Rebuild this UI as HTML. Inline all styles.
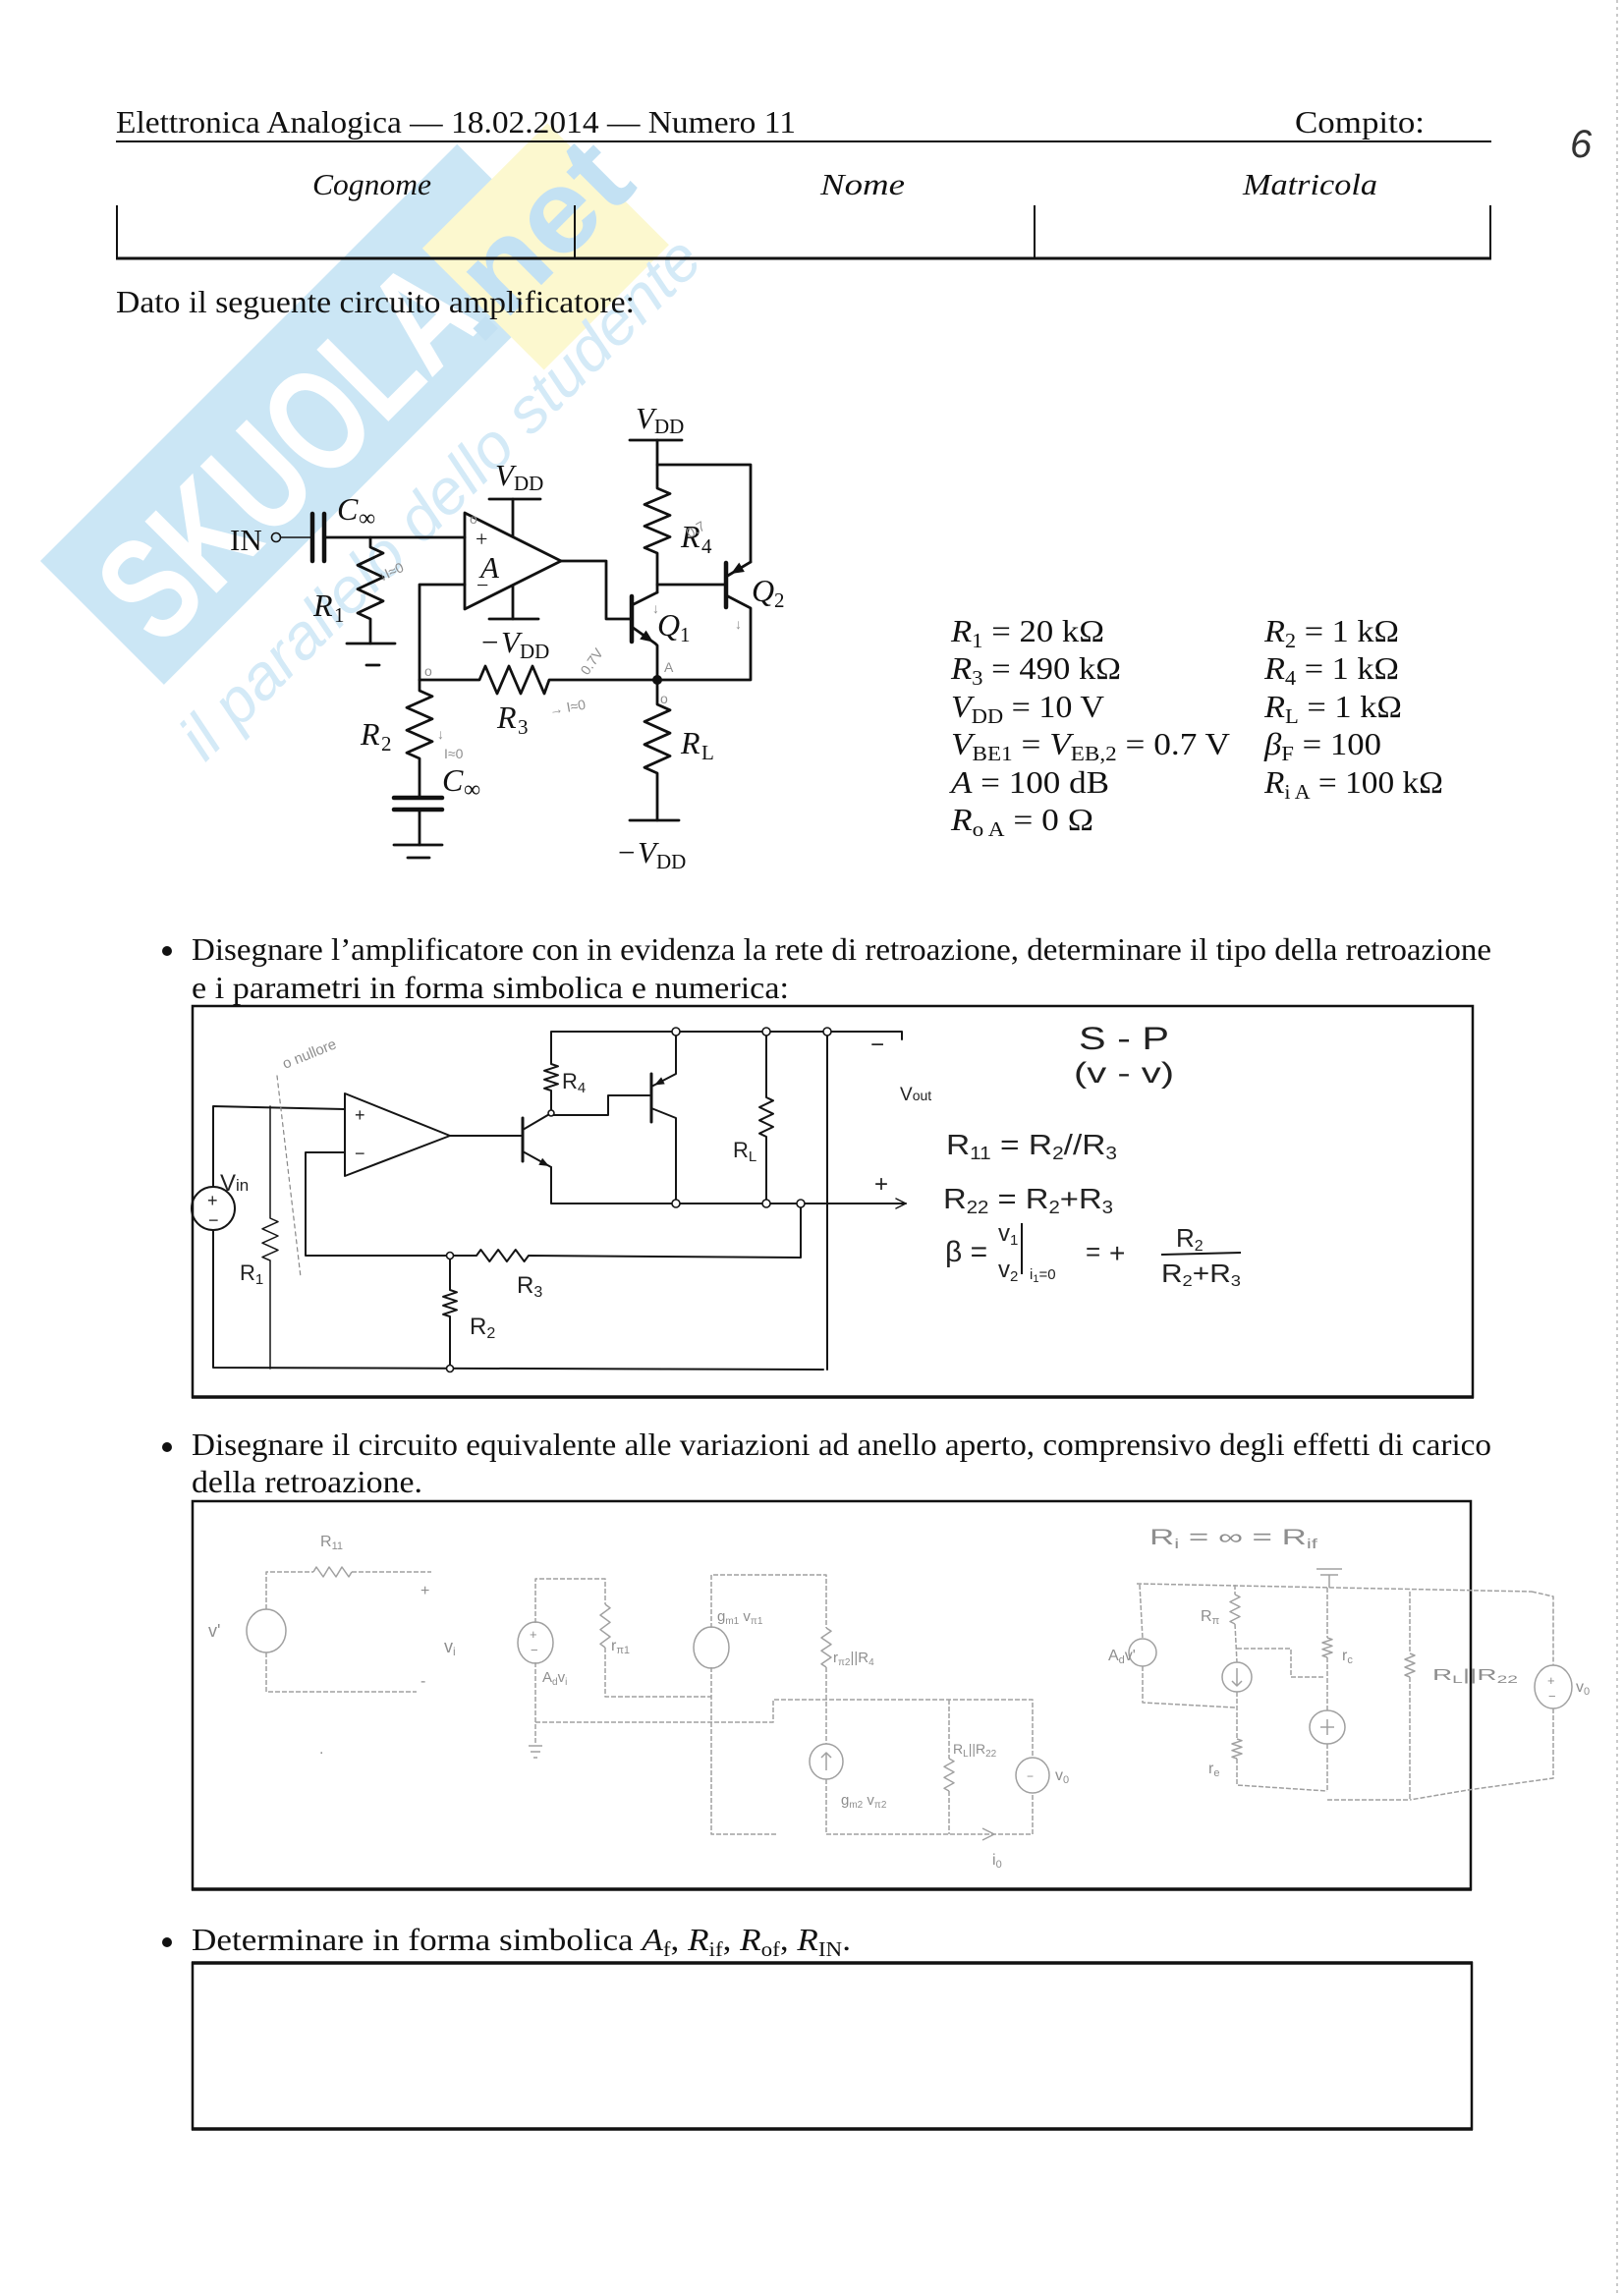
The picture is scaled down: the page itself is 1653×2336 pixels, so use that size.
<!DOCTYPE html>
<html><head><meta charset="utf-8"><style>
html,body{margin:0;padding:0;background:#fff;}
svg{display:block;}
text{font-family:"Liberation Serif",serif;fill:#111;}
.hw text, text.hw{font-family:"Liberation Sans",sans-serif;fill:#222;}
.pc text, text.pc{font-family:"Liberation Sans",sans-serif;fill:#8e8e8e;}
.it{font-style:italic;}
</style></head><body>
<svg width="1653" height="2336" viewBox="0 0 1653 2336" xmlns="http://www.w3.org/2000/svg">
<rect width="1653" height="2336" fill="#fff"/>

<!-- watermark -->
<g transform="translate(41,571) rotate(-45)">
  <rect x="0" y="0" width="600" height="178" fill="#cbe6f5"/>
  <text x="22" y="150" font-weight="bold" font-size="150" style="font-family:'Liberation Sans',sans-serif;fill:#fff" textLength="470" lengthAdjust="spacingAndGlyphs">SKUOLA</text>
  <rect x="500" y="50" width="180" height="175" fill="#fcf8cf"/>
  <text x="470" y="162" font-weight="bold" font-size="120" style="font-family:'Liberation Sans',sans-serif;fill:#c3e1f3" textLength="230" lengthAdjust="spacingAndGlyphs">.net</text>
  <text x="-27" y="264" font-style="italic" font-size="64" style="font-family:'Liberation Sans',sans-serif;fill:#d4eaf7" textLength="720" lengthAdjust="spacingAndGlyphs">il parallelo dello studente</text>
</g>

<!-- page edge -->
<line x1="1646" y1="0" x2="1646" y2="2336" stroke="#b8b8b8" stroke-width="1.5" stroke-dasharray="3,4"/>
<text x="1598" y="160" class="hw it" font-size="40" style="fill:#333">6</text>

<!-- header -->
<text x="118" y="135" font-size="32" textLength="692" lengthAdjust="spacingAndGlyphs">Elettronica Analogica — 18.02.2014 — Numero 11</text>
<text x="1318" y="135" font-size="32" textLength="132" lengthAdjust="spacingAndGlyphs">Compito:</text>
<line x1="118" y1="144" x2="1518" y2="144" stroke="#111" stroke-width="2"/>
<text x="318" y="198" font-size="31" class="it" textLength="121" lengthAdjust="spacingAndGlyphs">Cognome</text>
<text x="835" y="198" font-size="31" class="it" textLength="86" lengthAdjust="spacingAndGlyphs">Nome</text>
<text x="1265" y="198" font-size="31" class="it" textLength="137" lengthAdjust="spacingAndGlyphs">Matricola</text>
<g stroke="#111" stroke-width="2">
<line x1="119" y1="209" x2="119" y2="263"/>
<line x1="585" y1="209" x2="585" y2="263"/>
<line x1="1053" y1="209" x2="1053" y2="263"/>
<line x1="1517" y1="209" x2="1517" y2="263"/>
</g>
<line x1="118" y1="263" x2="1518" y2="263" stroke="#111" stroke-width="3"/>

<text x="118" y="318" font-size="32" textLength="528" lengthAdjust="spacingAndGlyphs">Dato il seguente circuito amplificatore:</text>

<!-- main circuit -->
<g stroke="#111" stroke-width="2.8" fill="none" stroke-linecap="round" stroke-linejoin="round">
  <circle cx="281" cy="547" r="4.5" stroke-width="1.6"/>
  <line x1="286" y1="547" x2="318" y2="547" stroke-width="1.6"/>
  <line x1="318" y1="523" x2="318" y2="571" stroke-width="4.5"/>
  <line x1="330" y1="523" x2="330" y2="571" stroke-width="4.5"/>
  <line x1="330" y1="547" x2="473" y2="547"/>
  <polyline points="377,547 377,557 390,563 364,575.3 390,587.5 364,599.6 390,611.8 364,624 377,630 377,655"/>
  <line x1="353" y1="655" x2="402" y2="655"/>
  <line x1="373" y1="677" x2="386" y2="677"/>
  <polygon points="473,522 473,620 571,571"/>
  <line x1="522" y1="508" x2="522" y2="546"/>
  <line x1="498" y1="508" x2="550" y2="508"/>
  <line x1="522" y1="596" x2="522" y2="630"/>
  <line x1="498" y1="630" x2="548" y2="630"/>
  <polyline points="473,595 427,595 427,692"/>
  <polyline points="427,692 488,692 494,678 506,706 518,678 530,706 542,678 554,706 559,692 669,692"/>
  <polyline points="427,692 427,703 440,708.75 414,720.25 440,731.75 414,743.25 440,754.75 414,766.25 427,772 427,812"/>
  <line x1="401" y1="812" x2="450" y2="812" stroke-width="4.5"/>
  <line x1="401" y1="824" x2="450" y2="824" stroke-width="4.5"/>
  <line x1="427" y1="824" x2="427" y2="860"/>
  <line x1="401" y1="860" x2="450" y2="860"/>
  <line x1="415" y1="873" x2="437" y2="873"/>
  <line x1="641" y1="448" x2="694" y2="448"/>
  <polyline points="669,448 669,497 682,502.5 656,513.5 682,524.5 656,535.5 682,546.5 656,557.5 669,563 669,603"/>
  <polyline points="669,473 764,473 764,572"/>
  <line x1="669" y1="595" x2="739" y2="595"/>
  <line x1="739" y1="573" x2="739" y2="618" stroke-width="4.5"/>
  <line x1="739" y1="587" x2="764" y2="572"/>
  <polyline points="739,606 764,619 764,692 669,692"/>
  <line x1="643" y1="607" x2="643" y2="653" stroke-width="4.5"/>
  <line x1="643" y1="616" x2="669" y2="603"/>
  <polyline points="643,638 667,655 669,657 669,692"/>
  <polyline points="571,571 617,571 617,630 643,630"/>
  <polyline points="669,692 669,717 682,722.8 656,734.5 682,746.2 656,757.8 682,769.5 656,781.2 669,787 669,835"/>
  <line x1="641" y1="835" x2="691" y2="835"/>
</g>
<polygon points="665,653.6 651.2,650.6 657.6,641.6" fill="#111"/>
<polygon points="744,584 757.9,582 752.3,572.6" fill="#111"/>
<circle cx="669" cy="692" r="5" fill="#111"/>

<!-- main circuit labels -->
<text x="234" y="560" font-size="31">IN</text>
<text x="343" y="529" font-size="32" class="it">C</text><text x="365" y="535" font-size="24">∞</text>
<text x="319" y="627" font-size="32" class="it">R</text><text x="340" y="633" font-size="21">1</text>
<text x="484" y="556" font-size="22">+</text>
<text x="485" y="603" font-size="22">−</text>
<text x="489" y="588" font-size="31" class="it">A</text>
<text x="504" y="494" font-size="31" class="it">V</text><text x="523" y="499" font-size="21">DD</text>
<text x="490" y="664" font-size="31">−</text><text x="510" y="664" font-size="31" class="it">V</text><text x="529" y="670" font-size="21">DD</text>
<text x="647" y="436" font-size="31" class="it">V</text><text x="666" y="441" font-size="21">DD</text>
<text x="506" y="741" font-size="32" class="it">R</text><text x="527" y="747" font-size="21">3</text>
<text x="367" y="758" font-size="32" class="it">R</text><text x="388" y="764" font-size="21">2</text>
<text x="450" y="805" font-size="32" class="it">C</text><text x="472" y="811" font-size="24">∞</text>
<text x="693" y="557" font-size="32" class="it">R</text><text x="714" y="563" font-size="21">4</text>
<text x="669" y="647" font-size="32" class="it">Q</text><text x="692" y="653" font-size="21">1</text>
<text x="765" y="612" font-size="32" class="it">Q</text><text x="788" y="618" font-size="21">2</text>
<text x="693" y="767" font-size="32" class="it">R</text><text x="714" y="773" font-size="21">L</text>
<text x="629" y="878" font-size="31">−</text><text x="649" y="878" font-size="31" class="it">V</text><text x="668" y="884" font-size="21">DD</text>

<!-- pencil annotations main -->
<g class="pc" font-size="14">
<text x="388" y="592" transform="rotate(-25 388 592)">↓I≈0</text>
<text x="432" y="688">o</text>
<text x="478" y="533">o</text>
<text x="702" y="548" transform="rotate(-30 702 548)">0.7</text>
<text x="598" y="688" transform="rotate(-55 598 688)">0.7V</text>
<text x="560" y="728" transform="rotate(-10 560 728)">→ I≈0</text>
<text x="445" y="752">↓</text>
<text x="452" y="772">I≈0</text>
<text x="748" y="640">↓</text>
<text x="676" y="684">A</text>
<text x="672" y="716">o</text>
<text x="664" y="624">↓</text>
</g>

<!-- parameters -->
<g font-size="32">
<text x="968" y="653" textLength="156" lengthAdjust="spacingAndGlyphs"><tspan class="it">R</tspan><tspan font-size="21" dy="6">1</tspan><tspan dy="-6"> = 20 kΩ</tspan></text>
<text x="968" y="691" textLength="173" lengthAdjust="spacingAndGlyphs"><tspan class="it">R</tspan><tspan font-size="21" dy="6">3</tspan><tspan dy="-6"> = 490 kΩ</tspan></text>
<text x="968" y="730" textLength="156" lengthAdjust="spacingAndGlyphs"><tspan class="it">V</tspan><tspan font-size="21" dy="6">DD</tspan><tspan dy="-6"> = 10 V</tspan></text>
<text x="968" y="768" textLength="284" lengthAdjust="spacingAndGlyphs"><tspan class="it">V</tspan><tspan font-size="21" dy="6">BE1</tspan><tspan dy="-6"> = </tspan><tspan class="it">V</tspan><tspan font-size="21" dy="6">EB,2</tspan><tspan dy="-6"> = 0.7 V</tspan></text>
<text x="968" y="807" textLength="161" lengthAdjust="spacingAndGlyphs"><tspan class="it">A</tspan> = 100 dB</text>
<text x="968" y="845" textLength="145" lengthAdjust="spacingAndGlyphs"><tspan class="it">R</tspan><tspan font-size="21" dy="6">o A</tspan><tspan dy="-6"> = 0 Ω</tspan></text>
<text x="1287" y="653" textLength="137" lengthAdjust="spacingAndGlyphs"><tspan class="it">R</tspan><tspan font-size="21" dy="6">2</tspan><tspan dy="-6"> = 1 kΩ</tspan></text>
<text x="1287" y="691" textLength="137" lengthAdjust="spacingAndGlyphs"><tspan class="it">R</tspan><tspan font-size="21" dy="6">4</tspan><tspan dy="-6"> = 1 kΩ</tspan></text>
<text x="1287" y="730" textLength="140" lengthAdjust="spacingAndGlyphs"><tspan class="it">R</tspan><tspan font-size="21" dy="6">L</tspan><tspan dy="-6"> = 1 kΩ</tspan></text>
<text x="1287" y="768" textLength="119" lengthAdjust="spacingAndGlyphs"><tspan class="it">β</tspan><tspan font-size="21" dy="6">F</tspan><tspan dy="-6"> = 100</tspan></text>
<text x="1287" y="807" textLength="182" lengthAdjust="spacingAndGlyphs"><tspan class="it">R</tspan><tspan font-size="21" dy="6">i A</tspan><tspan dy="-6"> = 100 kΩ</tspan></text>
</g>

<!-- bullet 1 -->
<circle cx="170" cy="968" r="5" fill="#111"/>
<text x="195" y="977" font-size="32" textLength="1323" lengthAdjust="spacingAndGlyphs">Disegnare l’amplificatore con in evidenza la rete di retroazione, determinare il tipo della retroazione</text>
<text x="195" y="1016" font-size="32" textLength="608" lengthAdjust="spacingAndGlyphs">e i parametri in forma simbolica e numerica:</text>
<rect x="196" y="1024" width="1303" height="398" fill="none" stroke="#111" stroke-width="2.5"/>
<line x1="195" y1="1422" x2="1500" y2="1422" stroke="#111" stroke-width="3.5"/>

<!-- box1 handwritten circuit -->
<g stroke="#151515" stroke-width="2" fill="none" stroke-linecap="round" stroke-linejoin="round">
  <polyline points="217,1208 217,1126 351,1129"/>
  <circle cx="217" cy="1230" r="22"/>
  <polyline points="217,1252 217,1392 838,1394"/>
  <line x1="842" y1="1394" x2="842" y2="1053"/>
  <polyline points="275,1126 275,1240 283,1243.6 267,1250.8 283,1258 267,1265.2 283,1272.4 267,1279.6 275,1283 275,1393" stroke-width="1.5"/>
  <polygon points="351,1113 351,1197 458,1156"/>
  <polyline points="351,1173 311,1173 311,1278 458,1278"/>
  <polyline points="458,1278 485,1278 489.4,1272 498.3,1284 507.1,1272 515.9,1284 524.8,1272 533.6,1284 538,1278 815,1280 815,1225"/>
  <polyline points="458,1278 458,1313 465,1315.3 451,1319.8 465,1324.3 451,1328.8 465,1333.3 451,1337.8 458,1340 458,1393"/>
  <line x1="458" y1="1156" x2="532" y2="1156"/>
  <line x1="532" y1="1138" x2="532" y2="1182" stroke-width="3"/>
  <line x1="532" y1="1150" x2="561" y2="1133"/>
  <line x1="532" y1="1172" x2="561" y2="1188"/>
  <polyline points="561,1133 561,1110 554,1107.8 568,1103.3 554,1098.8 568,1094.3 554,1089.8 568,1085.3 561,1083 561,1050 918,1050 918,1058"/>
  <polyline points="561,1188 561,1225 922,1225"/>
  <polyline points="561,1135 619,1135 619,1115 661,1115"/>
  <line x1="663" y1="1093" x2="663" y2="1142" stroke-width="3"/>
  <polyline points="663,1106 688,1093 688,1050"/>
  <polyline points="663,1128 688,1138 688,1225"/>
  <polyline points="780,1050 780,1117 787,1120.3 773,1127 787,1133.7 773,1140.3 787,1147 773,1153.7 780,1157 780,1225"/>
  <line x1="282" y1="1095" x2="306" y2="1300" stroke="#888" stroke-width="1.2" stroke-dasharray="4,4"/>
  <polyline points="912,1220 922,1225 912,1230" stroke-width="1.5"/>
</g>
<polygon points="559,1187 548.3,1185.7 552.1,1178.7" fill="#151515"/>
<polygon points="666,1104.5 676.7,1103.4 673.1,1096.4" fill="#151515"/>
<g fill="#fff" stroke="#151515" stroke-width="1.6">
<circle cx="688" cy="1050" r="4"/><circle cx="780" cy="1050" r="4"/><circle cx="842" cy="1050" r="4"/>
<circle cx="688" cy="1225" r="4"/><circle cx="780" cy="1225" r="4"/><circle cx="815" cy="1225" r="4"/>
<circle cx="458" cy="1278" r="3.5"/><circle cx="458" cy="1393" r="3.5"/><circle cx="561" cy="1133" r="3"/>
</g>
<g class="hw">
<text x="211" y="1228" font-size="18">+</text>
<text x="212" y="1248" font-size="18">−</text>
<text x="361" y="1141" font-size="18">+</text>
<text x="361" y="1180" font-size="18">−</text>
<text x="224" y="1212" font-size="24">V<tspan font-size="17">in</tspan></text>
<text x="244" y="1303" font-size="22">R<tspan font-size="15" dy="4">1</tspan></text>
<text x="572" y="1108" font-size="22">R<tspan font-size="15" dy="4">4</tspan></text>
<text x="746" y="1178" font-size="22">R<tspan font-size="15" dy="4">L</tspan></text>
<text x="526" y="1316" font-size="24">R<tspan font-size="16" dy="4">3</tspan></text>
<text x="478" y="1358" font-size="24">R<tspan font-size="16" dy="4">2</tspan></text>
<text x="916" y="1120" font-size="19">V<tspan font-size="14">out</tspan></text>
<text x="886" y="1071" font-size="24">−</text>
<text x="890" y="1213" font-size="24">+</text>
</g>
<text x="290" y="1088" class="pc" font-size="15" transform="rotate(-22 290 1088)">o nullore</text>

<!-- box1 formulas -->
<g class="hw">
<text x="1098" y="1068" font-size="32" textLength="92" lengthAdjust="spacingAndGlyphs">S - P</text>
<text x="1093" y="1102" font-size="30" textLength="102" lengthAdjust="spacingAndGlyphs">(v - v)</text>
<text x="963" y="1175" font-size="29" textLength="174" lengthAdjust="spacingAndGlyphs">R<tspan font-size="18" dy="5">11</tspan><tspan dy="-5"> = R</tspan><tspan font-size="18" dy="5">2</tspan><tspan dy="-5">//R</tspan><tspan font-size="18" dy="5">3</tspan></text>
<text x="960" y="1230" font-size="29" textLength="173" lengthAdjust="spacingAndGlyphs">R<tspan font-size="18" dy="5">22</tspan><tspan dy="-5"> = R</tspan><tspan font-size="18" dy="5">2</tspan><tspan dy="-5">+R</tspan><tspan font-size="18" dy="5">3</tspan></text>
<text x="962" y="1284" font-size="30">β =</text>
<text x="1016" y="1263" font-size="24">v<tspan font-size="15" dy="4">1</tspan></text>
<text x="1016" y="1300" font-size="24">v<tspan font-size="15" dy="4">2</tspan></text>
<text x="1048" y="1302" font-size="15">i<tspan font-size="11" dy="3">1</tspan><tspan dy="-3">=0</tspan></text>
<text x="1105" y="1283" font-size="26">=</text>
<text x="1129" y="1285" font-size="28">+</text>
<text x="1197" y="1269" font-size="26">R<tspan font-size="16" dy="4">2</tspan></text>
<text x="1182" y="1305" font-size="26" textLength="81" lengthAdjust="spacingAndGlyphs">R<tspan font-size="16" dy="4">2</tspan><tspan dy="-4">+R</tspan><tspan font-size="16" dy="4">3</tspan></text>
</g>
<g stroke="#151515" stroke-width="2" fill="none">
<line x1="1040" y1="1245" x2="1040" y2="1297"/>
<line x1="1182" y1="1277" x2="1263" y2="1275"/>
</g>

<!-- bullet 2 -->
<circle cx="170" cy="1473" r="5" fill="#111"/>
<text x="195" y="1481" font-size="32" textLength="1323" lengthAdjust="spacingAndGlyphs">Disegnare il circuito equivalente alle variazioni ad anello aperto, comprensivo degli effetti di carico</text>
<text x="195" y="1519" font-size="32" textLength="235" lengthAdjust="spacingAndGlyphs">della retroazione.</text>
<rect x="196" y="1528" width="1301" height="395" fill="none" stroke="#111" stroke-width="2.5"/>
<line x1="195" y1="1923" x2="1498" y2="1923" stroke="#111" stroke-width="3.5"/>

<!-- box2 pencil -->
<g stroke="#a0a0a0" stroke-width="1.5" fill="none" stroke-dasharray="5,2" stroke-linejoin="round">
  <polyline points="271,1638 271,1600 319,1600"/>
  <polyline points="358,1600 439,1600" />
  <polyline points="271,1682 271,1722 424,1722"/>
  <polyline points="545,1652 545,1607 616,1607 616,1633"/>
  <polyline points="616,1677 616,1727 724,1727"/>
  <polyline points="545,1692 545,1776"/>
  <polyline points="724,1657 724,1603 841,1603 841,1657"/>
  <polyline points="841,1697 841,1775"/>
  <polyline points="841,1811 841,1867 1051,1867 1051,1825"/>
  <polyline points="724,1697 724,1867 790,1867"/>
  <polyline points="545,1753 787,1753 787,1730 1051,1730 1051,1789"/>
  <polyline points="966,1730 966,1790"/>
  <polyline points="966,1823 966,1867"/>
  <polyline points="1157,1612 1559,1620"/>
  <polyline points="1160,1613 1163,1668"/>
  <polyline points="1163,1696 1163,1733 1257,1738"/>
  <polyline points="1257,1613 1257,1623"/>
  <polyline points="1257,1653 1259,1692"/>
  <polyline points="1259,1722 1259,1770"/>
  <polyline points="1259,1790 1259,1817 1351,1823"/>
  <polyline points="1259,1678 1314,1678 1314,1707 1349,1707"/>
  <polyline points="1351,1616 1351,1667"/>
  <polyline points="1351,1687 1351,1741"/>
  <polyline points="1351,1775 1351,1823"/>
  <polyline points="1351,1832 1435,1832"/>
  <polyline points="1435,1620 1435,1683"/>
  <polyline points="1435,1707 1435,1832"/>
  <polyline points="1559,1620 1581,1625 1581,1695"/>
  <polyline points="1581,1739 1581,1810 1494,1822 1435,1832"/>
</g>
<g stroke="#a0a0a0" stroke-width="1.5" fill="none" stroke-linejoin="round">
  <polyline points="319,1600 322,1595 329,1605 335,1595 342,1605 348,1595 355,1605 358,1600"/>
  <polyline points="616,1633 621,1636.7 611,1644 621,1651.3 611,1658.7 621,1666 611,1673.3 616,1677"/>
  <polyline points="841,1657 846,1660.3 836,1667 846,1673.7 836,1680.3 846,1687 836,1693.7 841,1697"/>
  <polyline points="966,1790 971,1792.75 961,1798.25 971,1803.75 961,1809.25 971,1814.75 961,1820.25 966,1823"/>
  <polyline points="1257,1623 1262,1625.5 1252,1630.5 1262,1635.5 1252,1640.5 1262,1645.5 1252,1650.5 1257,1653"/>
  <polyline points="1259,1770 1264,1771.7 1254,1775 1264,1778.3 1254,1781.7 1264,1785 1254,1788.3 1259,1790"/>
  <polyline points="1351,1667 1356,1668.7 1346,1672 1356,1675.3 1346,1678.7 1356,1682 1346,1685.3 1351,1687"/>
  <polyline points="1435,1683 1440,1685 1430,1689 1440,1693 1430,1697 1440,1701 1430,1705 1435,1707"/>
  <ellipse cx="271" cy="1660" rx="20" ry="22"/>
  <ellipse cx="545" cy="1672" rx="18" ry="21"/>
  <ellipse cx="724" cy="1677" rx="18" ry="21"/>
  <ellipse cx="841" cy="1793" rx="17" ry="18"/>
  <ellipse cx="1051" cy="1807" rx="17" ry="18"/>
  <ellipse cx="1163" cy="1682" rx="14" ry="14"/>
  <ellipse cx="1259" cy="1707" rx="15" ry="15"/>
  <ellipse cx="1351" cy="1758" rx="18" ry="17"/>
  <ellipse cx="1581" cy="1717" rx="19" ry="22"/>
  <line x1="538" y1="1777" x2="552" y2="1777"/><line x1="540" y1="1783" x2="550" y2="1783"/><line x1="543" y1="1789" x2="547" y2="1789"/>
  <line x1="1340" y1="1597" x2="1366" y2="1597"/><line x1="1344" y1="1603" x2="1362" y2="1603"/><line x1="1353" y1="1603" x2="1353" y2="1616"/>
  <polyline points="1000,1861 1012,1867 1000,1873"/>
  <line x1="1259" y1="1698" x2="1259" y2="1716"/><polyline points="1254,1711 1259,1716 1264,1711"/>
  <line x1="841" y1="1802" x2="841" y2="1784"/><polyline points="836,1789 841,1784 846,1789"/>
  <line x1="1351" y1="1750" x2="1351" y2="1766"/><line x1="1344" y1="1758" x2="1358" y2="1758"/>
</g>
<g class="pc" font-size="16">
<text x="326" y="1574">R<tspan font-size="11" dy="3">11</tspan></text>
<text x="212" y="1666" font-size="18">v'</text>
<text x="428" y="1624">+</text>
<text x="452" y="1682" font-size="18">v<tspan font-size="12" dy="3">i</tspan></text>
<text x="428" y="1716">-</text>
<text x="539" y="1668" font-size="13">+</text><text x="540" y="1684" font-size="13">−</text>
<text x="622" y="1680">r<tspan font-size="11" dy="3">π1</tspan></text>
<text x="552" y="1712" font-size="15">A<tspan font-size="10" dy="3">d</tspan><tspan dy="-3">v</tspan><tspan font-size="10" dy="3">i</tspan></text>
<text x="730" y="1650" font-size="15">g<tspan font-size="10" dy="3">m1</tspan><tspan dy="-3"> v</tspan><tspan font-size="10" dy="3">π1</tspan></text>
<text x="848" y="1692" font-size="15">r<tspan font-size="10" dy="3">π2</tspan><tspan dy="-3">||R</tspan><tspan font-size="10" dy="3">4</tspan></text>
<text x="856" y="1837" font-size="15">g<tspan font-size="10" dy="3">m2</tspan><tspan dy="-3"> v</tspan><tspan font-size="10" dy="3">π2</tspan></text>
<text x="970" y="1785" font-size="14">R<tspan font-size="10" dy="3">L</tspan><tspan dy="-3">||R</tspan><tspan font-size="10" dy="3">22</tspan></text>
<text x="1045" y="1812" font-size="12">−</text>
<text x="1074" y="1812">v<tspan font-size="11" dy="3">0</tspan></text>
<text x="1010" y="1898">i<tspan font-size="11" dy="3">0</tspan></text>
<text x="1170" y="1572" font-size="22" textLength="171" lengthAdjust="spacingAndGlyphs">R<tspan font-size="14" dy="4">i</tspan><tspan dy="-4"> = ∞ = R</tspan><tspan font-size="14" dy="4">if</tspan></text>
<text x="1128" y="1690" font-size="16">A<tspan font-size="11" dy="3">d</tspan><tspan dy="-3">v'</tspan></text>
<text x="1222" y="1650">R<tspan font-size="11" dy="3">π</tspan></text>
<text x="1230" y="1805">r<tspan font-size="11" dy="3">e</tspan></text>
<text x="1366" y="1690">r<tspan font-size="11" dy="3">c</tspan></text>
<text x="1458" y="1710" textLength="87" lengthAdjust="spacingAndGlyphs">R<tspan font-size="11" dy="3">L</tspan><tspan dy="-3">||R</tspan><tspan font-size="11" dy="3">22</tspan></text>
<text x="1575" y="1715" font-size="13">+</text><text x="1576" y="1731" font-size="13">−</text>
<text x="1604" y="1722">v<tspan font-size="11" dy="3">0</tspan></text>
<text x="325" y="1785">.</text>
</g>

<!-- bullet 3 -->
<circle cx="170" cy="1977" r="5" fill="#111"/>
<text x="195" y="1985" font-size="32" textLength="671" lengthAdjust="spacingAndGlyphs">Determinare in forma simbolica <tspan class="it">A</tspan><tspan font-size="21" dy="6">f</tspan><tspan dy="-6">, </tspan><tspan class="it">R</tspan><tspan font-size="21" dy="6">if</tspan><tspan dy="-6">, </tspan><tspan class="it">R</tspan><tspan font-size="21" dy="6">of</tspan><tspan dy="-6">, </tspan><tspan class="it">R</tspan><tspan font-size="21" dy="6">IN</tspan><tspan dy="-6">.</tspan></text>
<rect x="196" y="1998" width="1302" height="169" fill="none" stroke="#111" stroke-width="2.5"/>
<line x1="195" y1="2167" x2="1499" y2="2167" stroke="#111" stroke-width="3.5"/>
<line x1="195" y1="1998" x2="1499" y2="1998" stroke="#111" stroke-width="3.5"/>
</svg>
</body></html>
